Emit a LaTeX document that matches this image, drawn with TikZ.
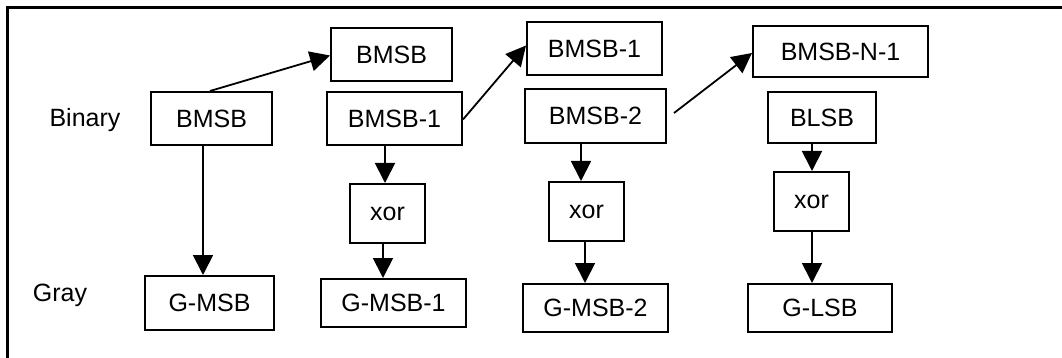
\documentclass[tikz,border=0pt]{standalone}
\usepackage{fontspec}
\setmainfont{Liberation Sans}
\usetikzlibrary{arrows.meta}
\begin{document}
\begin{tikzpicture}[x=1pt,y=-1pt,
  box/.style={draw,line width=2pt,inner sep=0pt,font=\fontsize{25}{29}\selectfont},
  lbl/.style={inner sep=0pt,font=\fontsize{25}{29}\selectfont},
  arr/.style={line width=1.8pt,-{Triangle[length=20pt,width=20pt]}},
  frame/.style={line width=2.4pt}]
\useasboundingbox (0,0) rectangle (1062,358);
% outer frame (left and top edges)
\coordinate (fbl) at (7.5,360);
\coordinate (ftl) at (7.5,7.7);
\coordinate (ftr) at (1064,7.7);
\draw[frame] (fbl) -- (ftl) -- (ftr);
% row labels
\node[lbl] (binary) at (85,120) {Binary};
\node[lbl] (gray) at (60,295) {Gray};
% binary row
\node[box,minimum width=121pt,minimum height=53pt] (bin0) at (211.5,118.5) {BMSB};
\node[box,minimum width=135pt,minimum height=53pt] (bin1) at (394.5,118.5) {BMSB-1};
\node[box,minimum width=141pt,minimum height=54pt] (bin2) at (595.5,116) {BMSB-2};
\node[box,minimum width=108pt,minimum height=51pt] (bin3) at (822,117.5) {BLSB};
% shifted copies
\node[box,minimum width=121pt,minimum height=53pt] (top0) at (391.5,54.5) {BMSB};
\node[box,minimum width=135pt,minimum height=53pt] (top1) at (594.5,48.5) {BMSB-1};
\node[box,minimum width=175pt,minimum height=51pt] (top2) at (840.5,51.5) {BMSB-N-1};
% xor gates
\node[box,minimum width=75pt,minimum height=59pt] (xor1) at (387.5,213.5) {xor};
\node[box,minimum width=75pt,minimum height=59pt] (xor2) at (586.5,211.5) {xor};
\node[box,minimum width=75pt,minimum height=59pt] (xor3) at (811.5,201.5) {xor};
% gray row
\node[box,minimum width=129pt,minimum height=54pt] (g0) at (209.5,303) {G-MSB};
\node[box,minimum width=145pt,minimum height=48pt] (g1) at (393.5,303) {G-MSB-1};
\node[box,minimum width=145pt,minimum height=48pt] (g2) at (595.5,308) {G-MSB-2};
\node[box,minimum width=144pt,minimum height=48pt] (g3) at (820,308) {G-LSB};
% shift connectors
\draw[arr] ([xshift=-1.5pt]bin0.north) -- ([yshift=-1pt]top0.west);
\draw[arr] ([yshift=-1pt]bin1.east) -- ([yshift=3pt]top1.west);
\coordinate (b2out) at ([xshift=7pt,yshift=3pt]bin2.east);
\draw[arr] (b2out) -- ([yshift=-1.5pt]top2.west);
% vertical connectors
\coordinate (c0) at ([xshift=-8.5pt]bin0.south);
\draw[arr] (c0) -- (c0 |- g0.north);
\coordinate (c1) at ([xshift=-2.5pt]xor1.north);
\draw[arr] (c1 |- bin1.south) -- (c1);
\coordinate (c1b) at ([xshift=-4.5pt]xor1.south);
\draw[arr] (c1b) -- (c1b |- g1.north);
\coordinate (c2) at ([xshift=-5.5pt]xor2.north);
\draw[arr] (c2 |- bin2.south) -- (c2);
\coordinate (c2b) at ([xshift=-1.5pt]xor2.south);
\draw[arr] (c2b) -- (c2b |- g2.north);
\coordinate (c3) at ([xshift=0.5pt]xor3.north);
\draw[arr] (c3 |- bin3.south) -- (c3);
\coordinate (c3b) at ([xshift=0.5pt]xor3.south);
\draw[arr] (c3b) -- (c3b |- g3.north);
\end{tikzpicture}
\end{document}
